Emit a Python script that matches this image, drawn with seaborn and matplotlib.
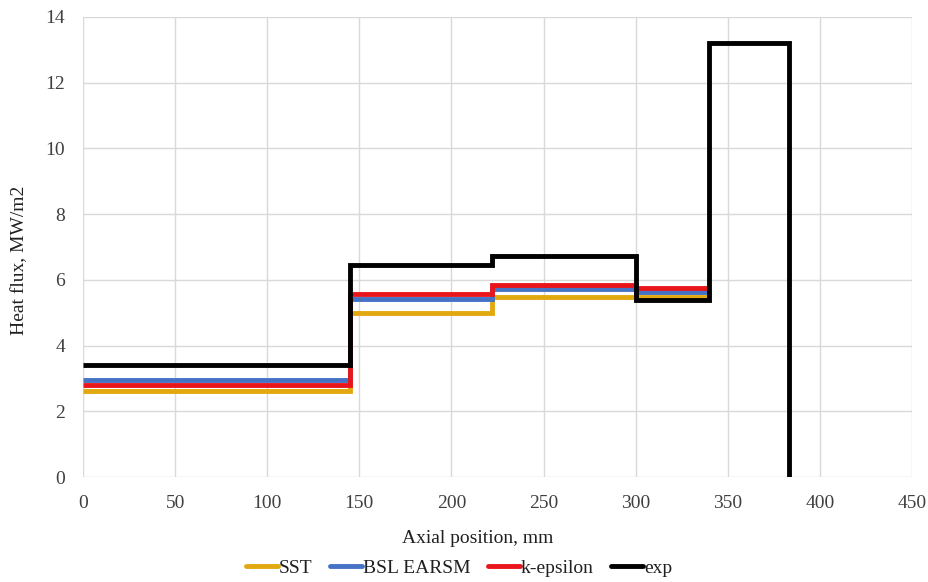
import matplotlib
matplotlib.use("Agg")
import matplotlib.pyplot as plt
import seaborn as sns
import pandas as pd
from matplotlib.lines import Line2D

# Data (step edges and values)
model_x = [0, 145, 222, 300, 340]
sst = [2.62, 5.0, 5.49, 5.49, 5.49]
bsl = [2.95, 5.41, 5.73, 5.64, 5.64]
keps = [2.80, 5.56, 5.84, 5.76, 5.76]
exp_x = [0, 145, 222, 300, 340, 383, 383]
exp = [3.40, 6.45, 6.73, 5.38, 13.2, 13.2, 0.0]

series_names = ["SST", "BSL EARSM", "k-epsilon", "exp"]
colors = ["#E2A80F", "#4472C4", "#E8151B", "#000000"]

rows = []
for name, vals in zip(series_names[:3], [sst, bsl, keps]):
    for x, v in zip(model_x, vals):
        rows.append((name, x, v))
for x, v in zip(exp_x, exp):
    rows.append(("exp", x, v))
df = pd.DataFrame(rows, columns=["series", "x", "y"])

sns.set_theme(style="white")
plt.rcParams["font.family"] = ["Liberation Serif", "DejaVu Serif"]

FS = 14
fig = plt.figure(figsize=(9.29, 5.82), dpi=100)
ax = fig.add_axes([0.0893, 0.1804, 0.8924, 0.7904])

for name, col in zip(series_names, colors):
    sub = df[df["series"] == name]
    sns.lineplot(data=sub, x="x", y="y", ax=ax, color=col, lw=3.5,
                 drawstyle="steps-post", sort=False, estimator=None,
                 legend=False, solid_joinstyle="miter", solid_capstyle="butt")

ax.set_xlim(0, 450)
ax.set_ylim(0, 14)
ax.set_xticks(range(0, 451, 50))
ax.set_yticks(range(0, 15, 2))
ax.grid(True, color="#D9D9D9", lw=1)
ax.set_axisbelow(True)
for s in ax.spines.values():
    s.set_visible(False)
ax.tick_params(axis="x", length=0, labelsize=FS, colors="#404040", pad=13)
ax.tick_params(axis="y", length=0, labelsize=FS, colors="#404040", pad=13)
ax.set_xlabel("Axial position, mm", fontsize=FS, color="#202020")
ax.set_ylabel("Heat flux, MW/m2", fontsize=FS, color="#202020")
ax.xaxis.label.set_va("center")
ax.yaxis.label.set_va("center")
ax.xaxis.set_label_coords(0.4765, -0.1326)
ax.yaxis.set_label_coords(-0.076, 0.472)

handles = [Line2D([0], [0], color=c, lw=3.5) for c in colors]
leg = fig.legend(handles, series_names, loc="center", bbox_to_anchor=(459 / 929, 1 - 568 / 582),
                 ncol=4, frameon=False, fontsize=FS, handlelength=1.65,
                 handletextpad=0.05, columnspacing=0.9, borderpad=0, borderaxespad=0)
for t in leg.get_texts():
    t.set_color("#202020")

fig.savefig("out.png", dpi=100)
